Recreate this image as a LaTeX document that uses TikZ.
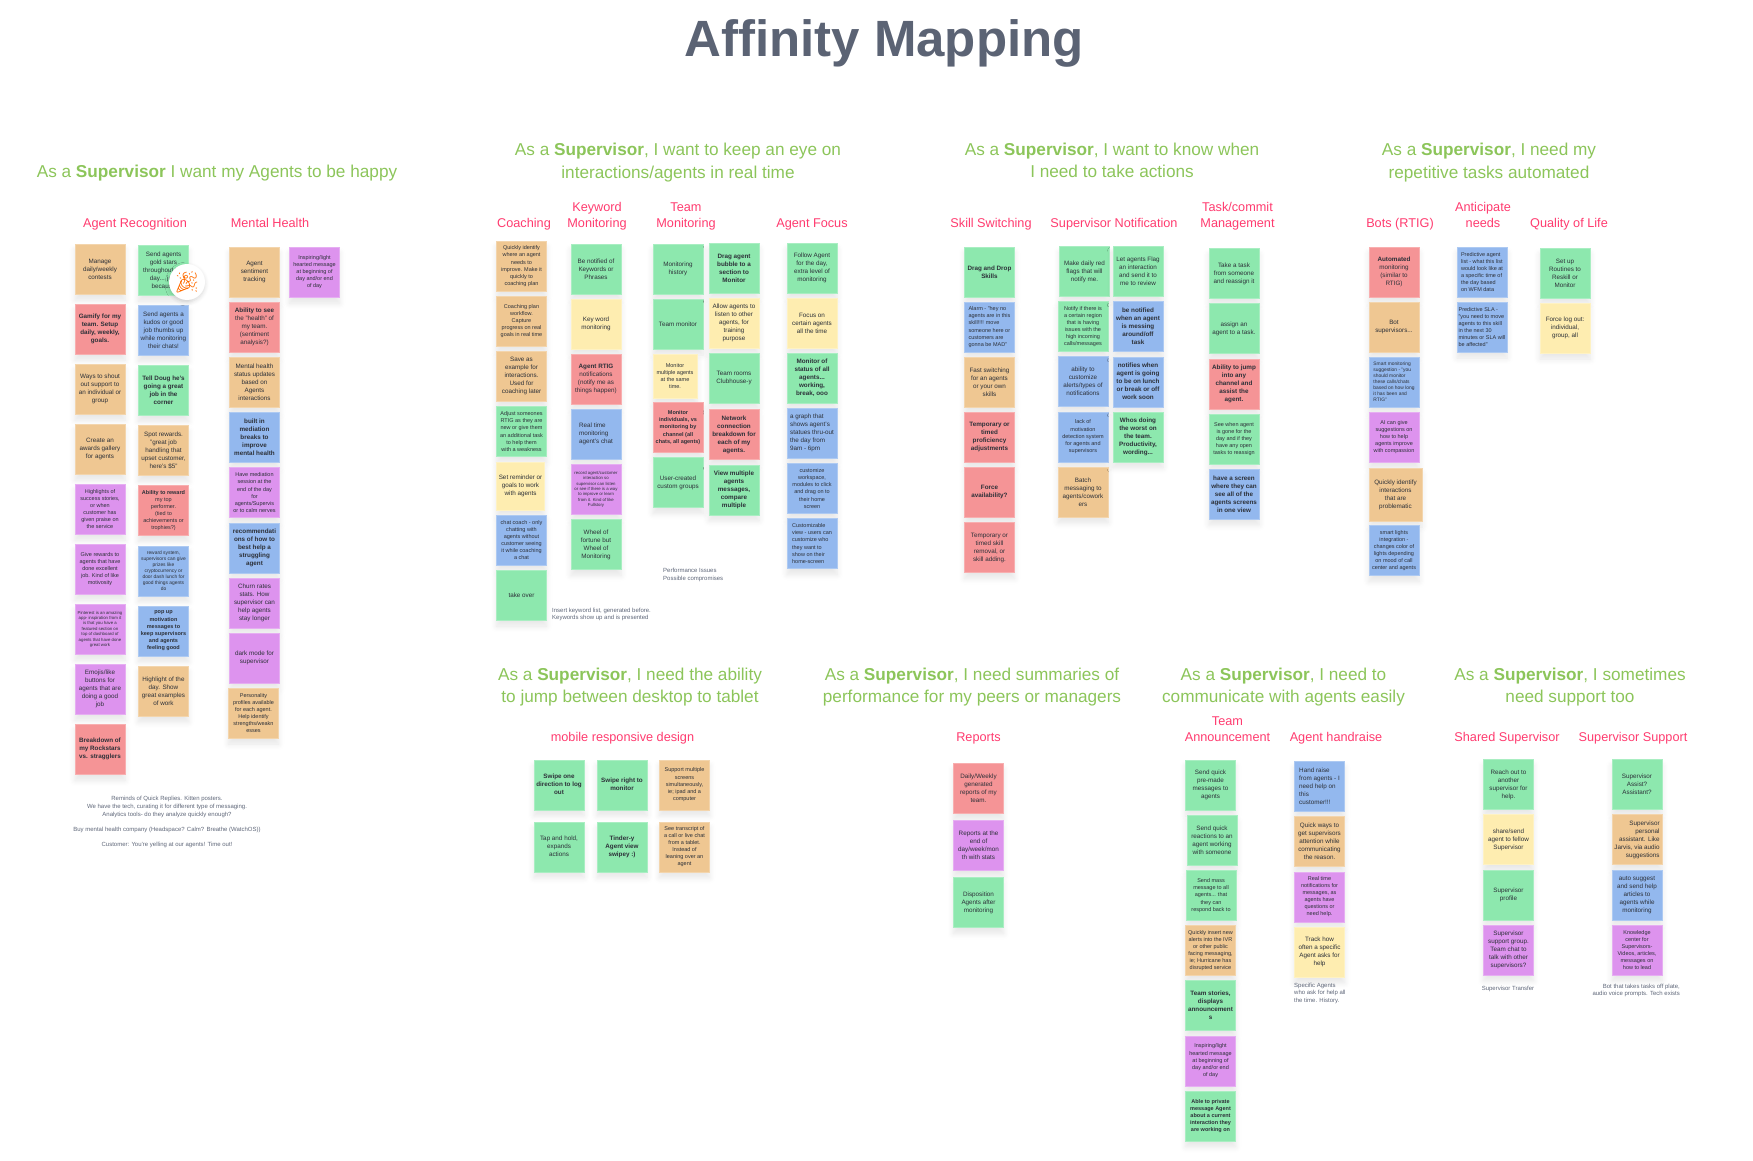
\documentclass[tikz,border=0pt]{standalone}
\usepackage{fontspec}
\setmainfont{Liberation Sans}
\newfontfamily\emojifont{Noto Emoji}
\usepackage{xcolor}
\usetikzlibrary{positioning,shadows.blur}

\definecolor{stgreen}{HTML}{8DE8AE}
\definecolor{stblue}{HTML}{93B8EE}
\definecolor{storange}{HTML}{EFC792}
\definecolor{stred}{HTML}{F59496}
\definecolor{stpurple}{HTML}{DD93EE}
\definecolor{styellow}{HTML}{FEEDB0}
\definecolor{headgreen}{HTML}{8CC55A}
\definecolor{labelpink}{HTML}{FF3B6F}
\definecolor{titleslate}{HTML}{5B6374}
\definecolor{notegray}{HTML}{5E6678}
\definecolor{stickytext}{HTML}{2C3038}

\newcommand{\asup}{As a \textbf{Supervisor}}

\begin{document}
\begin{tikzpicture}[
    x=1pt, y=-1pt,
    node distance=4.7pt,
    sticky/.style={rectangle, fill=#1, draw=#1!75!white, line width=0.4pt, minimum size=50pt, inner sep=0pt, align=center,
        text=stickytext, font=\fontsize{6.3}{8}\selectfont,
        blur shadow={shadow xshift=0pt, shadow yshift=-6pt, shadow blur radius=6pt, shadow blur steps=6, shadow opacity=10}},
    midsize/.style={font=\fontsize{5.5}{7.1}\selectfont},
    smallsize/.style={font=\fontsize{4.9}{6}\selectfont},
    tinysize/.style={font=\fontsize{4.3}{5.4}\selectfont},
    strong/.style={execute at begin node=\bfseries},
    header/.style={font=\fontsize{17.2}{22.6}\selectfont, text=headgreen, align=center},
    grouplabel/.style={font=\fontsize{12.7}{16}\selectfont, text=labelpink, align=center},
    note/.style={font=\fontsize{6}{7.6}\selectfont, text=notegray, align=center, inner sep=0pt}
]
\useasboundingbox (0,0) rectangle (1753,1161);

% Title
\node[font=\fontsize{51}{53}\selectfont\bfseries, text=titleslate, anchor=base] (title) at (884,57) {Affinity Mapping};

% Happy agents
\node[header] (h_happy) at (217,173) {\asup{} I want my Agents to be happy};
\node[grouplabel] (l_recog) at (135,224) {Agent Recognition};
\node[grouplabel] (l_mental) at (270,223) {Mental Health};

\node[sticky=storange] (rec_contest) at (100,269.2) {Manage\\daily/weekly\\contests};
\node[sticky=stred, strong, below=9.6pt of rec_contest] (rec_gamify) {Gamify for my\\team. Setup\\daily, weekly,\\goals.};
\node[sticky=storange, below=9.6pt of rec_gamify] (rec_shout) {Ways to shout\\out support to\\an individual or\\group};
\node[sticky=storange, below=9.6pt of rec_shout] (rec_gallery) {Create an\\awards gallery\\for agents};
\node[sticky=stpurple, midsize, below=9.6pt of rec_gallery] (rec_stories) {Highlights of\\success stories,\\or when\\customer has\\given praise on\\the service};
\node[sticky=stpurple, midsize, below=9.6pt of rec_stories] (rec_give) {Give rewards to\\agents that have\\done excellent\\job. Kind of like\\motivosity};
\node[sticky=stpurple, tinysize, below=9.6pt of rec_give] (rec_pin) {Pinterest is an amazing\\app- inspiration from it\\is that you have a\\featured section on\\top of dashboard of\\agents that have done\\great work};
\node[sticky=stpurple, below=9.6pt of rec_pin] (rec_emoji) {Emojis/like\\buttons for\\agents that are\\doing a good\\job};
\node[sticky=stred, strong, below=9.6pt of rec_emoji] (rec_rock) {Breakdown of\\my Rockstars\\vs. stragglers};

\node[sticky=stgreen] (rec_gold) at (163.5,270.2) {Send agents\\gold stars\\throughout the\\day... just\\because};
\node[sticky=stblue, below=9.7pt of rec_gold] (rec_kudos) {Send agents a\\kudos or good\\job thumbs up\\while monitoring\\their chats!};
\node[sticky=stgreen, strong, below=9.7pt of rec_kudos] (rec_doug) {Tell Doug he's\\going a great\\job in the\\corner};
\node[sticky=storange, below=9.7pt of rec_doug] (rec_spot) {Spot rewards.\\"great job\\handling that\\upset customer,\\here's \$5"};
\node[sticky=stred, midsize, below=9.7pt of rec_spot] (rec_top) {\bfseries Ability to reward\\my top\\performer.\\\mdseries (tied to\\achievements or\\trophies?)};
\node[sticky=stblue, smallsize, below=9.7pt of rec_top] (rec_prize) {reward system,\\supervisors can give\\prizes like\\cryptocurrency or\\door dash lunch for\\good things agents\\do};
\node[sticky=stblue, midsize, strong, below=9.7pt of rec_prize] (rec_popup) {pop up\\motivation\\messages to\\keep supervisors\\and agents\\feeling good};
\node[sticky=storange, below=9.7pt of rec_popup] (rec_day) {Highlight of the\\day. Show\\great examples\\of work};

\node[circle, fill=white, minimum size=36pt, inner sep=0pt, text=orange!85!red, font=\emojifont\fontsize{21}{21}\selectfont,
      blur shadow={shadow xshift=0pt, shadow yshift=-2pt, shadow blur radius=4pt, shadow blur steps=6, shadow opacity=15}] (popper) at (187,282) {🎉};

\node[sticky=storange] (men_sent) at (254.5,272.2) {Agent\\sentiment\\tracking};
\node[sticky=stred, below=of men_sent] (men_health) {\bfseries Ability to see\\the "health" of\\my team.\\\mdseries (sentiment\\analysis?)};
\node[sticky=storange, below=of men_health] (men_status) {Mental health\\status updates\\based on\\Agents\\interactions};
\node[sticky=stblue, strong, below=of men_status] (men_breaks) {built in\\mediation\\breaks to\\improve\\mental health};
\node[sticky=stpurple, midsize, below=of men_breaks] (men_session) {Have mediation\\session at the\\end of the day\\for\\agents/Supervis\\or to calm nerves};
\node[sticky=stblue, strong, below=of men_session] (men_recom) {recommendati\\ons of how to\\best help a\\struggling\\agent};
\node[sticky=stpurple, below=of men_recom] (men_churn) {Churn rates\\stats. How\\supervisor can\\help agents\\stay longer};
\node[sticky=stpurple, below=of men_churn] (men_dark) {dark mode for\\supervisor};
\node[sticky=storange, midsize, below=of men_dark, xshift=-1pt] (men_person) {Personality\\profiles available\\for each agent.\\Help identify\\strengths/weakn\\esses};
\node[sticky=stpurple, midsize] (men_inspire) at (314.5,272.2) {Inspiring/light\\hearted message\\at beginning of\\day and/or end\\of day};

\node[note] (n_replies) at (167,807) {Reminds of Quick Replies. Kitten posters.\\We have the tech, curating it for different type of messaging.\\Analytics tools- do they analyze quickly enough?};
\node[note] (n_buy) at (167,830) {Buy mental health company (Headspace? Calm? Breathe (WatchOS))};
\node[note] (n_yell) at (167,845) {Customer: You're yelling at our agents! Time out!};

% Real time
\node[header] (h_real) at (678,162.5) {\asup, I want to keep an eye on\\interactions/agents in real time};
\node[grouplabel] (l_coach) at (524,224.5) {Coaching};
\node[grouplabel] (l_key) at (597,216.3) {Keyword\\Monitoring};
\node[grouplabel] (l_team) at (686,216.3) {Team\\Monitoring};
\node[grouplabel] (l_focus) at (812,224) {Agent Focus};

\node[sticky=storange, midsize] (co_identify) at (521.5,266.2) {Quickly identify\\where an agent\\needs to\\improve. Make it\\quickly to\\coaching plan};
\node[sticky=storange, midsize, below=of co_identify] (co_plan) {Coaching plan\\workflow.\\Capture\\progress on real\\goals in real time};
\node[sticky=storange, below=of co_plan] (co_save) {Save as\\example for\\interactions.\\Used for\\coaching later};
\node[sticky=stgreen, midsize, below=of co_save] (co_adjust) {Adjust someones\\RTIG as they are\\new or give them\\an additional task\\to help them\\with a weakness};
\node[sticky=styellow, minimum size=48pt] (co_remind) at (520.5,486) {Set reminder or\\goals to work\\with agents};
\node[sticky=stblue, midsize] (co_chat) at (521.5,540) {chat coach - only\\chatting with\\agents without\\customer seeing\\it while coaching\\a chat};
\node[sticky=stgreen, below=of co_chat] (co_take) {take over};
\node[note, align=left, anchor=west] (n_insert) at (552,614.5) {Insert keyword list, generated before.\\Keywords show up and is presented};

\node[sticky=stgreen] (key_phrase) at (596,269) {Be notified of\\Keywords or\\Phrases};
\node[sticky=styellow, below=of key_phrase] (key_word) {Key word\\monitoring};
\node[sticky=stred, below=of key_word] (key_rtig) {\bfseries Agent RTIG\\notifications\\\mdseries (notify me as\\things happen)};
\node[sticky=stblue, align=left, below=of key_rtig] (key_real) {Real time\\monitoring\\agent's chat};
\node[sticky=stpurple, tinysize, below=of key_real] (key_record) {record agent/customer\\interaction so\\supervisor can listen\\or see if there is a way\\to improve or learn\\from it. Kind of like\\Fullstory};
\node[sticky=stgreen, below=of key_record] (key_wheel) {Wheel of\\fortune but\\Wheel of\\Monitoring};

\node[sticky=stgreen] (team_hist) at (678,269) {Monitoring\\history};
\node[sticky=stgreen, below=of team_hist] (team_mon) {Team monitor};
\node[sticky=styellow, midsize, minimum size=44pt] (team_multi) at (675,376) {Monitor\\multiple agents\\at the same\\time.};
\node[sticky=stred, midsize, strong] (team_indiv) at (678,427.5) {Monitor\\individuals, vs\\monitoring by\\channel (all\\chats, all agents)};
\node[sticky=stgreen, below=of team_indiv] (team_user) {User-created\\custom groups};
\node[sticky=stgreen, strong] (team_drag) at (734,268) {Drag agent\\bubble to a\\section to\\Monitor};
\node[sticky=styellow, below=of team_drag] (team_listen) {Allow agents to\\listen to other\\agents, for\\training\\purpose};
\node[sticky=stgreen, below=of team_listen] (team_rooms) {Team rooms\\Clubhouse-y};
\node[sticky=stred, strong, below=6pt of team_rooms] (team_net) {Network\\connection\\breakdown for\\each of my\\agents.};
\node[sticky=stgreen, strong, below=of team_net] (team_view) {View multiple\\agents\\messages,\\compare\\multiple};
\node[note, align=left, anchor=west] (n_perf) at (663,574.7) {Performance Issues\\Possible compromises};

\node[sticky=stgreen] (foc_follow) at (812,268) {Follow Agent\\for the day,\\extra level of\\monitoring};
\node[sticky=styellow, below=of foc_follow] (foc_certain) {Focus on\\certain agents\\all the time};
\node[sticky=stgreen, strong, below=of foc_certain] (foc_status) {Monitor of\\status of all\\agents...\\working,\\break, ooo};
\node[sticky=stblue, align=left, below=of foc_status] (foc_graph) {a graph that\\shows agent's\\statues thru-out\\the day from\\9am - 6pm};
\node[sticky=stblue, midsize, below=of foc_graph] (foc_work) {customize\\workspace,\\modules to click\\and drag on to\\their home\\screen};
\node[sticky=stblue, midsize, align=left, below=of foc_work] (foc_custom) {Customizable\\view - users can\\customize who\\they want to\\show on their\\home-screen};

% Take actions
\node[header] (h_act) at (1112,160.5) {\asup, I want to know when\\I need to take actions};
\node[grouplabel] (l_skill) at (991,224) {Skill Switching};
\node[grouplabel] (l_notif) at (1114,224) {Supervisor Notification};
\node[grouplabel] (l_task) at (1237.5,216.5) {Task/commit\\Management};

\node[sticky=stgreen, strong] (sk_drag) at (989.5,272) {Drag and Drop\\Skills};
\node[sticky=stblue, midsize, align=left, below=of sk_drag] (sk_alarm) {Alarm - "hey no\\agents are in this\\skill!!!! move\\someone here or\\customers are\\gonna be MAD"};
\node[sticky=storange, below=of sk_alarm] (sk_fast) {Fast switching\\for an agents\\or your own\\skills};
\node[sticky=stred, strong, below=of sk_fast] (sk_prof) {Temporary or\\timed\\proficiency\\adjustments};
\node[sticky=stred, strong, below=of sk_prof] (sk_force) {Force\\availability?};
\node[sticky=stred, below=of sk_force] (sk_removal) {Temporary or\\timed skill\\removal, or\\skill adding.};

\node[sticky=stgreen] (no_flags) at (1084.5,271.5) {Make daily red\\flags that will\\notify me.};
\node[sticky=stgreen, midsize] (no_region) at (1083,326.5) {Notify if there is\\a certain region\\that is having\\issues with the\\high incoming\\calls/messages};
\node[sticky=stblue, below=of no_region] (no_alerts) {ability to\\customize\\alerts/types of\\notifications};
\node[sticky=stblue, midsize, below=of no_alerts] (no_lack) {lack of\\motivation\\detection system\\for agents and\\supervisors};
\node[sticky=storange, below=of no_lack] (no_batch) {Batch\\messaging to\\agents/cowork\\ers};
\node[sticky=stgreen] (no_let) at (1138,271.5) {Let agents Flag\\an interaction\\and send it to\\me to review};
\node[sticky=stblue, strong, below=of no_let] (no_mess) {be notified\\when an agent\\is messing\\around/off\\task};
\node[sticky=stblue, strong, below=of no_mess] (no_lunch) {notifies when\\agent is going\\to be on lunch\\or break or off\\work soon};
\node[sticky=stgreen, strong, below=of no_lunch] (no_worst) {Whos doing\\the worst on\\the team.\\Productivity,\\wording...};

\node[sticky=stgreen] (ta_take) at (1234,273.5) {Take a task\\from someone\\and reassign it};
\node[sticky=stgreen, below=of ta_take] (ta_assign) {assign an\\agent to a task.};
\node[sticky=stred, strong, below=of ta_assign] (ta_jump) {Ability to jump\\into any\\channel and\\assist the\\agent.};
\node[sticky=stgreen, midsize, below=of ta_jump] (ta_gone) {See when agent\\is gone for the\\day and if they\\have any open\\tasks to reassign};
\node[sticky=stblue, strong, below=of ta_gone] (ta_screen) {have a screen\\where they can\\see all of the\\agents screens\\in one view};

% Repetitive tasks
\node[header] (h_auto) at (1489,162.5) {\asup, I need my\\repetitive tasks automated};
\node[grouplabel] (l_bots) at (1400,224.5) {Bots (RTIG)};
\node[grouplabel] (l_anti) at (1483,214.5) {Anticipate\\needs};
\node[grouplabel] (l_life) at (1569,224) {Quality of Life};

\node[sticky=stred] (bot_auto) at (1394,272) {\bfseries Automated\\monitoring\\\mdseries (similar to\\RTIG)};
\node[sticky=storange, below=of bot_auto] (bot_super) {Bot\\supervisors...};
\node[sticky=stblue, smallsize, align=left, below=of bot_super] (bot_smart) {Smart monitoring\\suggestion - "you\\should monitor\\these calls/chats\\based on how long\\it has been and\\RTIG"};
\node[sticky=stpurple, midsize, below=of bot_smart] (bot_ai) {AI can give\\suggestions on\\how to help\\agents improve\\with compassion};
\node[sticky=storange, minimum size=53pt] (bot_quick) at (1395.5,494.5) {Quickly identify\\interactions\\that are\\problematic};
\node[sticky=stblue, midsize] (bot_lights) at (1394,550.5) {smart lights\\integration -\\changes color of\\lights depending\\on mood of call\\center and agents};

\node[sticky=stblue, midsize, align=left] (ant_list) at (1482,272) {Predictive agent\\list - what this list\\would look like at\\a specific time of\\the day based\\on WFM data};
\node[sticky=stblue, midsize, align=left, below=of ant_list] (ant_sla) {Predictive SLA -\\"you need to move\\agents to this skill\\in the next 30\\minutes or SLA will\\be affected"};

\node[sticky=stgreen] (qol_set) at (1565,273) {Set up\\Routines to\\Reskill or\\Monitor};
\node[sticky=styellow, below=of qol_set] (qol_force) {Force log out:\\individual,\\group, all};

% Desktop to tablet
\node[header] (h_tablet) at (630,687) {\asup, I need the ability\\to jump between desktop to tablet};
\node[grouplabel] (l_mobile) at (622.5,738) {mobile responsive design};

\node[sticky=stgreen, strong] (mob_swipe) at (559,784.7) {Swipe one\\direction to log\\out};
\node[sticky=stgreen, below=11.6pt of mob_swipe] (mob_tap) {Tap and hold,\\expands\\actions};
\node[sticky=stgreen, strong] (mob_right) at (622,784.7) {Swipe right to\\monitor};
\node[sticky=stgreen, strong, below=11.6pt of mob_right] (mob_tinder) {Tinder-y\\Agent view\\swipey :)};
\node[sticky=storange, midsize] (mob_screens) at (684.5,784.7) {Support multiple\\screens\\simultaneously,\\ie; ipad and a\\computer};
\node[sticky=storange, midsize, below=11.6pt of mob_screens] (mob_script) {See transcript of\\a call or live chat\\from a tablet.\\Instead of\\leaning over an\\agent};

% Summaries
\node[header] (h_sum) at (972,687) {\asup, I need summaries of\\performance for my peers or managers};
\node[grouplabel] (l_rep) at (978.5,738) {Reports};

\node[sticky=stred] (rep_daily) at (978.5,788.5) {Daily/Weekly\\generated\\reports of my\\team.};
\node[sticky=stpurple, below=6.6pt of rep_daily] (rep_end) {Reports at the\\end of\\day/week/mon\\th with stats};
\node[sticky=stgreen, below=6.6pt of rep_end] (rep_disp) {Disposition\\Agents after\\monitoring};

% Communicate
\node[header] (h_comm) at (1283.5,687) {\asup, I need to\\communicate with agents easily};
\node[grouplabel] (l_ann) at (1227.5,729) {Team\\Announcement};
\node[grouplabel] (l_hand) at (1336,738) {Agent handraise};

\node[sticky=stgreen] (ann_pre) at (1210.5,785) {Send quick\\pre-made\\messages to\\agents};
\node[sticky=stgreen] (ann_react) at (1212,840.5) {Send quick\\reactions to an\\agent working\\with someone};
\node[sticky=stgreen, midsize] (ann_mass) at (1211,895.5) {Send mass\\message to all\\agents... that\\they can\\respond back to};
\node[sticky=storange, midsize] (ann_alert) at (1210.5,950.5) {Quickly insert new\\alerts into the IVR\\or other public\\facing messaging,\\ie; Hurricane has\\disrupted service};
\node[sticky=stgreen, strong, below=of ann_alert] (ann_stories) {Team stories,\\displays\\announcement\\s};
\node[sticky=stpurple, midsize, below=of ann_stories] (ann_inspire) {Inspiring/light\\hearted message\\at beginning of\\day and/or end\\of day};
\node[sticky=stgreen, midsize, strong, below=of ann_inspire] (ann_private) {Able to private\\message Agent\\about a current\\interaction they\\are working on};

\node[sticky=stblue, align=left] (han_raise) at (1319.5,786.5) {Hand raise\\from agents - I\\need help on\\this\\customer!!!};
\node[sticky=storange, below=of han_raise] (han_quick) {Quick ways to\\get supervisors\\attention while\\communicating\\the reason.};
\node[sticky=stpurple, midsize, below=of han_quick] (han_real) {Real time\\notifications for\\messages, as\\agents have\\questions or\\need help.};
\node[sticky=styellow, below=of han_real] (han_track) {Track how\\often a specific\\Agent asks for\\help};
\node[note, align=left, anchor=west] (n_spec) at (1294,993.3) {Specific Agents\\who ask for help all\\the time. History.};

% Support too
\node[header] (h_sup) at (1570,687) {\asup, I sometimes\\need support too};
\node[grouplabel] (l_share) at (1507,738) {Shared Supervisor};
\node[grouplabel] (l_support) at (1633,738) {Supervisor Support};

\node[sticky=stgreen] (sh_reach) at (1508.5,784.5) {Reach out to\\another\\supervisor for\\help.};
\node[sticky=styellow, below=of sh_reach] (sh_share) {share/send\\agent to fellow\\Supervisor};
\node[sticky=stgreen, below=of sh_share] (sh_profile) {Supervisor\\profile};
\node[sticky=stpurple, below=of sh_profile] (sh_group) {Supervisor\\support group.\\Team chat to\\talk with other\\supervisors?};
\node[note] (n_trans) at (1508,988.7) {Supervisor Transfer};

\node[sticky=stgreen] (su_assist) at (1637,784.5) {Supervisor\\Assist?\\Assistant?};
\node[sticky=storange, align=right, below=of su_assist] (su_personal) {Supervisor\\personal\\assistant. Like\\Jarvis, via audio\\suggestions};
\node[sticky=stblue, below=of su_personal] (su_auto) {auto suggest\\and send help\\articles to\\agents while\\monitoring};
\node[sticky=stpurple, midsize, below=of su_auto] (su_know) {Knowledge\\center for\\Supervisors-\\Videos, articles,\\messages on\\how to lead};
\node[note, align=right, anchor=east] (n_bot) at (1680,990.5) {Bot that takes tasks off plate,\\audio voice prompts. Tech exists};

\end{tikzpicture}
\end{document}
